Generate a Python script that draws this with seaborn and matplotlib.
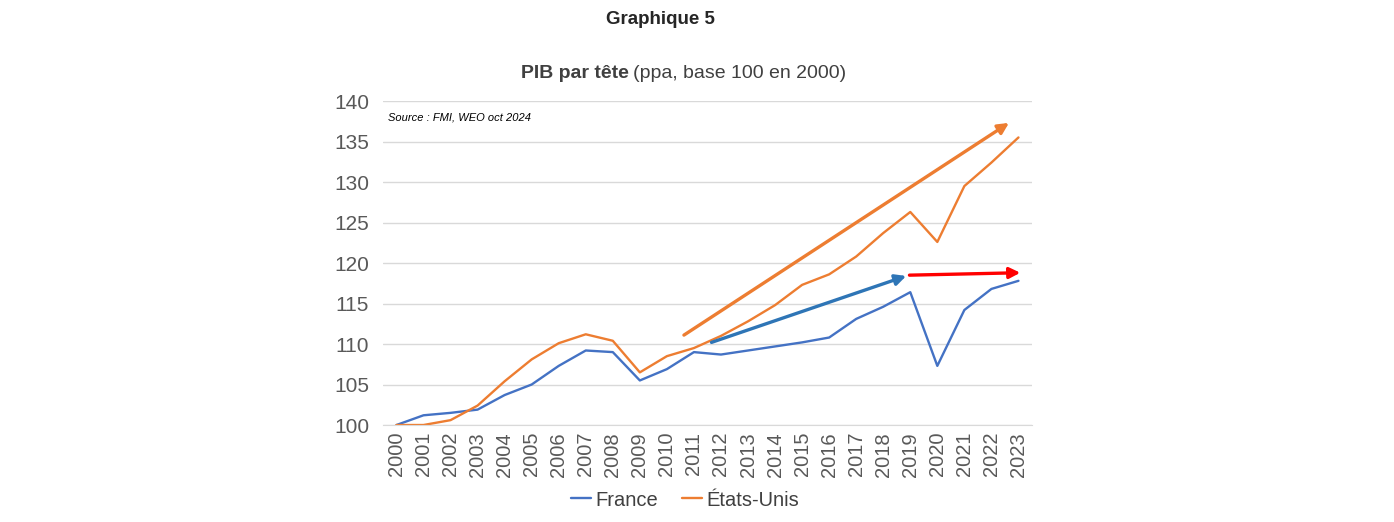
import pandas as pd
import matplotlib.pyplot as plt
import seaborn as sns

# Data (PIB par tête, ppa, base 100 en 2000)
years = list(range(2000, 2024))
france = [100.0, 101.2, 101.5, 101.9, 103.7, 105.0, 107.3, 109.2, 109.0, 105.5,
          106.9, 109.0, 108.7, 109.2, 109.7, 110.2, 110.8, 113.1, 114.6, 116.4,
          107.3, 114.2, 116.8, 117.8]
etats_unis = [100.0, 100.0, 100.6, 102.4, 105.4, 108.1, 110.1, 111.2, 110.4, 106.5,
              108.5, 109.5, 111.0, 112.8, 114.8, 117.3, 118.6, 120.8, 123.7, 126.3,
              122.6, 129.5, 132.4, 135.5]

# Trend arrows (start year position, start value, end year position, end value)
arrow_us = (2010.63, 111.1, 2022.65, 137.3)
arrow_fr = (2011.65, 110.2, 2018.85, 118.4)
arrow_red = (2018.97, 118.5, 2023.07, 118.8)

df = pd.DataFrame({
    "year": years * 2,
    "value": france + etats_unis,
    "pays": ["France"] * len(years) + ["États-Unis"] * len(years),
})

sns.set_style("white")
plt.rcParams["font.family"] = ["Liberation Sans", "DejaVu Sans"]

fig = plt.figure(figsize=(13.94, 5.22), dpi=100)
ax = fig.add_axes([0.2747, 0.1858, 0.4656, 0.6207])

sns.lineplot(data=df, x="year", y="value", hue="pays", ax=ax,
             palette={"France": "#4472C4", "États-Unis": "#ED7D31"},
             linewidth=1.7, legend=False)

# arrows
for (x0, y0, x1, y1), col in [(arrow_us, "#ED7D31"), (arrow_fr, "#2E75B6"), (arrow_red, "#FF0000")]:
    ax.annotate("", xy=(x1, y1), xytext=(x0, y0),
                arrowprops=dict(arrowstyle="-|>", color=col, lw=2.4,
                                mutation_scale=16, shrinkA=0, shrinkB=0))

ax.set_xlim(1999.5, 2023.5)
ax.set_ylim(100, 140)
ax.set_yticks(range(100, 141, 5))
ax.set_xticks(years)
ax.set_xticklabels([str(y) for y in years], rotation=90)
ax.tick_params(axis="y", length=0, labelsize=15, colors="#595959", pad=10)
ax.tick_params(axis="x", length=0, labelsize=14.5, colors="#595959", pad=5)
ax.grid(axis="y", color="#d9d9d9", linewidth=1)
ax.set_axisbelow(True)
for s in ["top", "right", "left"]:
    ax.spines[s].set_visible(False)
ax.spines["bottom"].set_color("#d9d9d9")
ax.set_xlabel("")
ax.set_ylabel("")

ax.text(0.008, 0.965, "Source : FMI, WEO oct 2024", transform=ax.transAxes,
        fontsize=8, style="italic", color="#000000", va="top")

# titles
fig.text(660 / 1394, 1 - 20 / 522, "Graphique 5", ha="center", va="center",
         fontsize=13.5, fontweight="bold", color="#262626")
fig.text(629 / 1394, 1 - 73 / 522, "PIB par tête", ha="right", va="center",
         fontsize=14, fontweight="bold", color="#404040")
fig.text(633 / 1394, 1 - 73 / 522, "(ppa, base 100 en 2000)", ha="left", va="center",
         fontsize=14, color="#404040")

# legend
handles = [plt.Line2D([], [], color="#4472C4", lw=1.7),
           plt.Line2D([], [], color="#ED7D31", lw=1.7)]
fig.legend(handles, ["France", "États-Unis"], loc="center", ncol=2,
           bbox_to_anchor=(685 / 1394, 1 - 500 / 522), frameon=False,
           fontsize=14.5, handlelength=1.0, handletextpad=0.2, columnspacing=1.2,
           labelcolor="#404040")

fig.savefig("out.png", dpi=100)
